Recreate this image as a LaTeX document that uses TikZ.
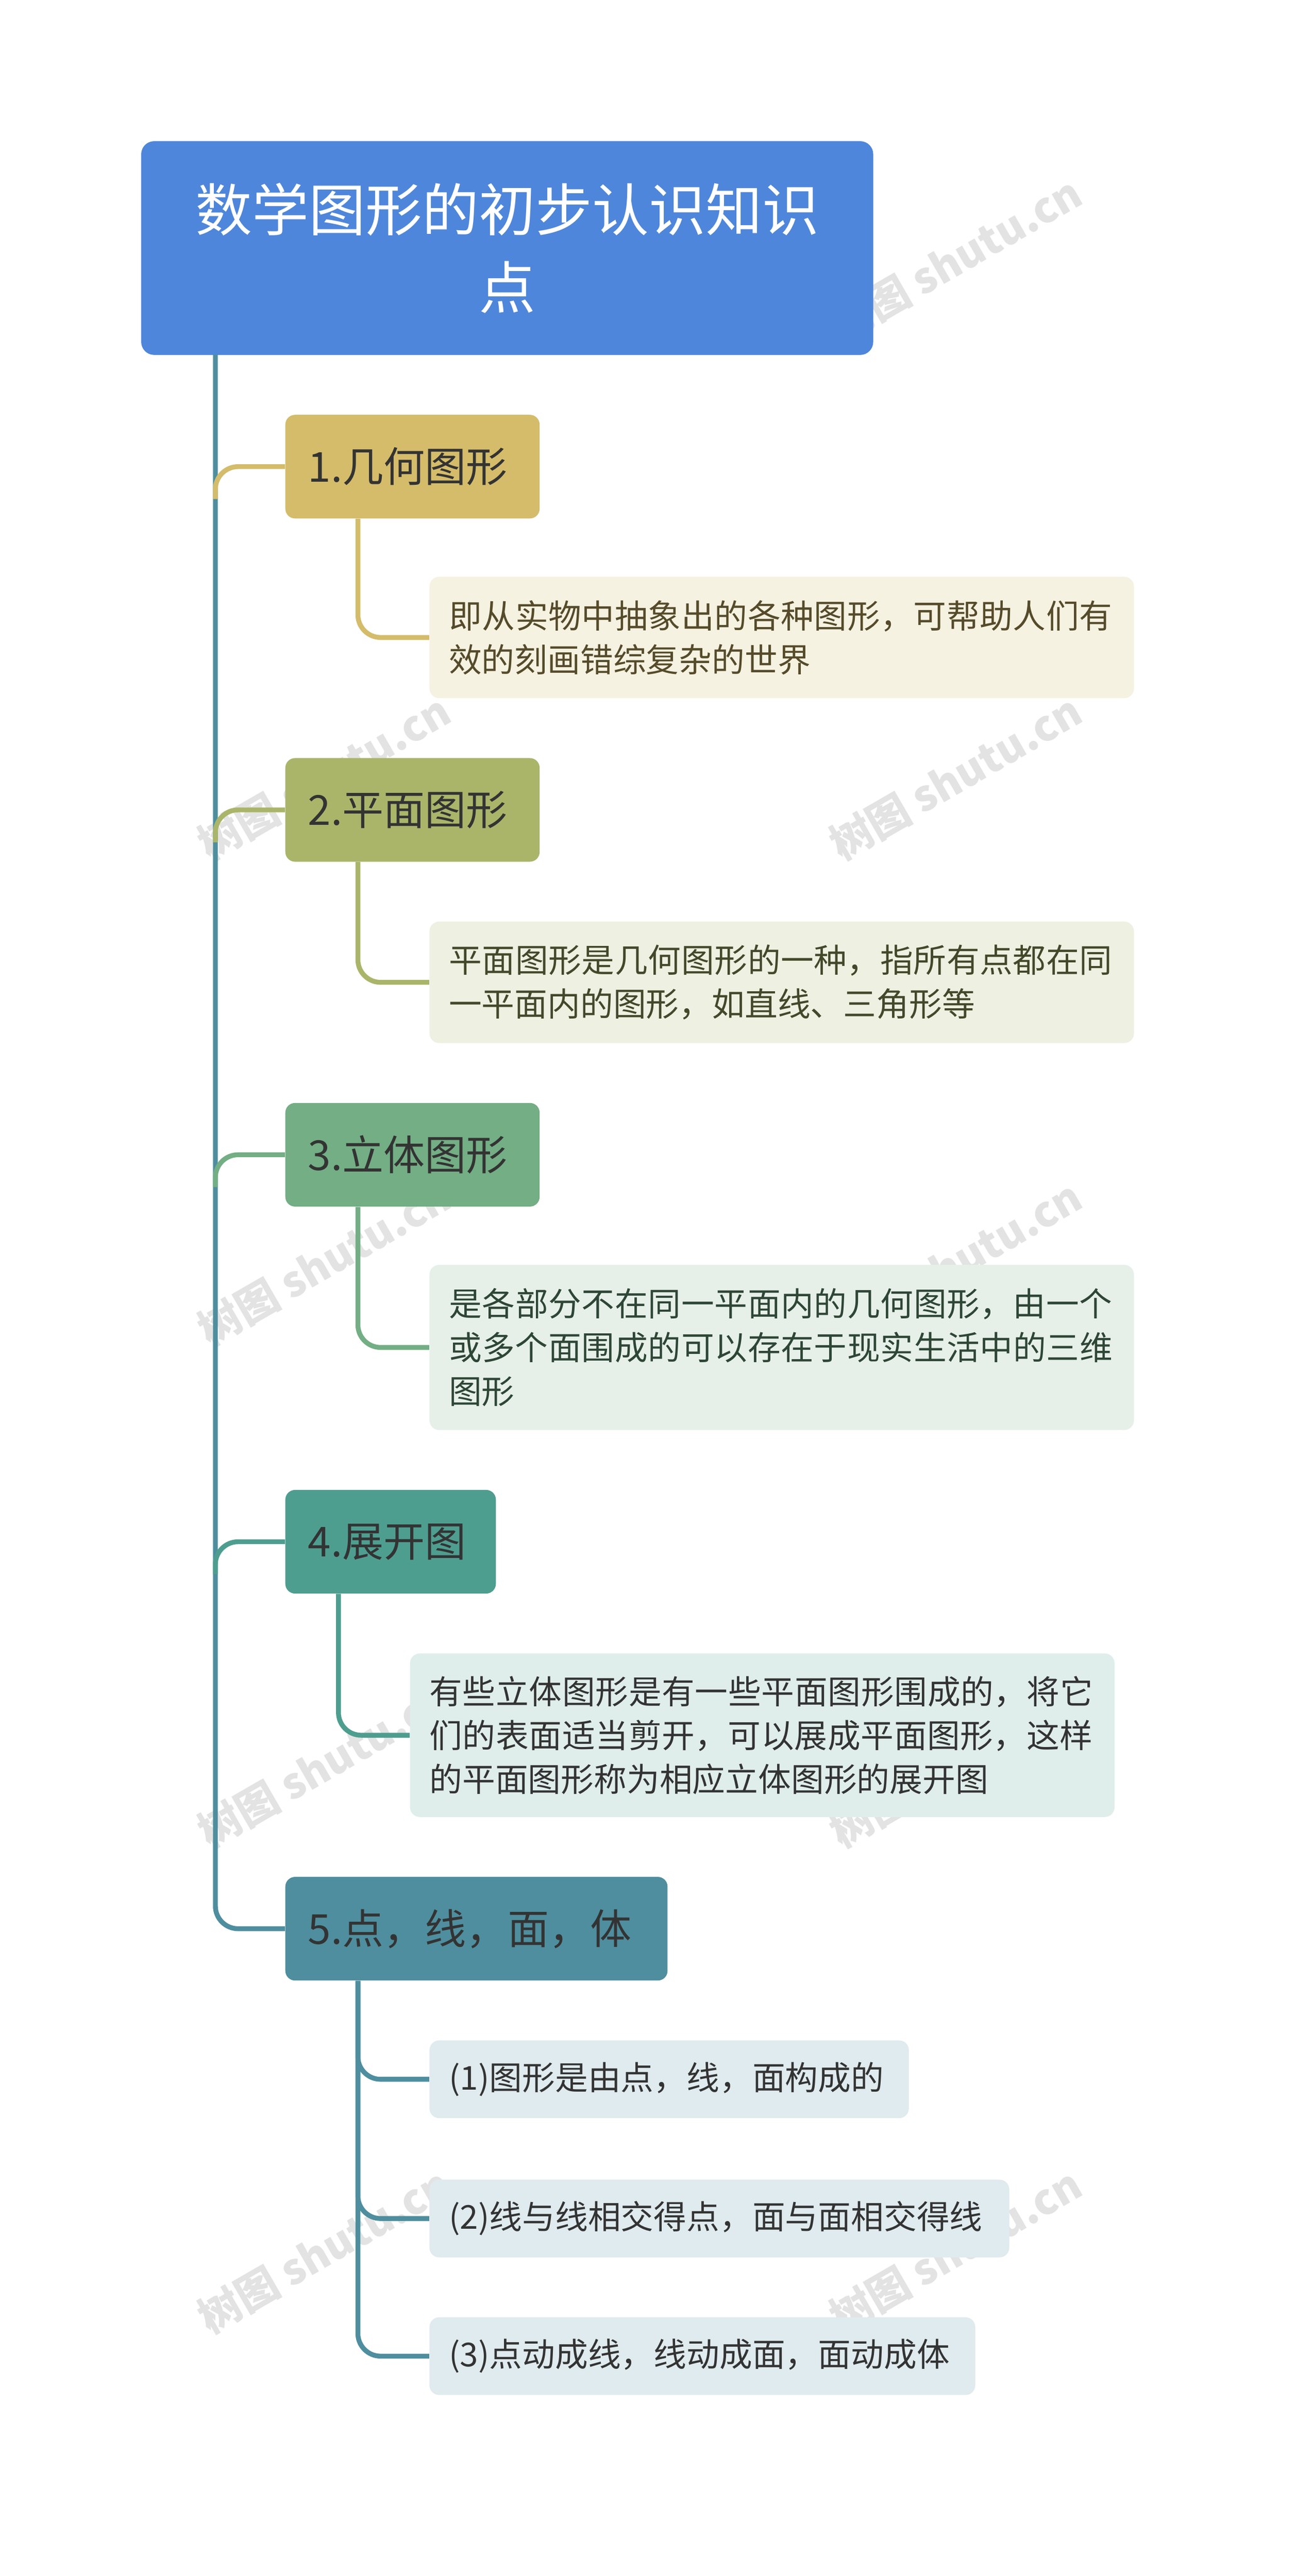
\documentclass[tikz,border=0pt]{standalone}
\usepackage{fontspec}
\setmainfont{Noto Sans CJK SC}
\XeTeXlinebreaklocale "zh"
\XeTeXlinebreakskip=0pt plus 1pt
\begin{document}
\begin{tikzpicture}[x=1pt,y=-1pt,
 ch/.style={rounded corners=6pt,anchor=north west,inner sep=0pt},
 tx/.style={anchor=west,align=left,text width=#1,inner sep=0pt,font=\fontsize{20.3}{27}\selectfont},
 ln/.style={line width=3pt,rounded corners=14pt},
 wm/.style={text=gray!22,rotate=30,font=\fontsize{26}{30}\selectfont\bfseries}]
\definecolor{cRoot}{HTML}{4E86DB}
\definecolor{c1}{HTML}{D4BC6A}\definecolor{c2}{HTML}{AAB56A}\definecolor{c3}{HTML}{73AE84}
\definecolor{c4}{HTML}{4E9E90}\definecolor{c5}{HTML}{4E8E9E}
\useasboundingbox[fill=white] (0,0) rectangle (800,1591);
\foreach \x/\y in {200/160,590/160,200/480,590/480,200/780,590/780,200/1090,590/1090,200/1390,590/1390}
  \node[wm] at (\x,\y) {树图 shutu.cn};
\node[fill=cRoot,rounded corners=8pt,anchor=north west,minimum width=452pt,minimum height=132pt,inner sep=0pt] (root) at (87,87) {};
\node[text=white,align=center,font=\fontsize{35}{48}\selectfont] at (root.center) {数学图形的初步认识知识\\点};
% branches
\node[ch,fill=c1,minimum width=157pt,minimum height=64pt] (b1) at (176,256) {};
\node[ch,fill=c2,minimum width=157pt,minimum height=64pt] (b2) at (176,468) {};
\node[ch,fill=c3,minimum width=157pt,minimum height=64pt] (b3) at (176,681) {};
\node[ch,fill=c4,minimum width=130pt,minimum height=64pt] (b4) at (176,920) {};
\node[ch,fill=c5,minimum width=236pt,minimum height=64pt] (b5) at (176,1159) {};
\foreach \n/\t in {b1/1.几何图形,b2/2.平面图形,b3/3.立体图形,b4/4.展开图,b5/{5.点，线，面，体}}
  \node[font=\fontsize{25.5}{30}\selectfont,text=black!80,anchor=west,inner sep=0pt] at ([xshift=14pt]\n.west) {\t};
% children
\node[ch,fill=c1!20,minimum width=435pt,minimum height=75pt] (k1) at (265,356) {};
\node[tx=418pt,text=c1!40!black] at ([xshift=12pt]k1.west) {即从实物中抽象出的各种图形，可帮助人们有效的刻画错综复杂的世界};
\node[ch,fill=c2!20,minimum width=435pt,minimum height=75pt] (k2) at (265,569) {};
\node[tx=418pt,text=c2!40!black] at ([xshift=12pt]k2.west) {平面图形是几何图形的一种，指所有点都在同一平面内的图形，如直线、三角形等};
\node[ch,fill=c3!18,minimum width=435pt,minimum height=102pt] (k3) at (265,781) {};
\node[tx=418pt,text=c3!40!black] at ([xshift=12pt]k3.west) {是各部分不在同一平面内的几何图形，由一个或多个面围成的可以存在于现实生活中的三维图形};
\node[ch,fill=c4!18,minimum width=435pt,minimum height=101pt] (k4) at (253,1021) {};
\node[tx=418pt,text=black!80] at ([xshift=12pt]k4.west) {有些立体图形是有一些平面图形围成的，将它们的表面适当剪开，可以展成平面图形，这样的平面图形称为相应立体图形的展开图};
\node[ch,fill=c5!18,minimum width=296pt,minimum height=48pt] (k5) at (265,1260) {};
\node[anchor=west,inner sep=0pt,font=\fontsize{20.3}{26}\selectfont,text=black!80] at ([xshift=12pt]k5.west) {(1)图形是由点，线，面构成的};
\node[ch,fill=c5!18,minimum width=358pt,minimum height=48pt] (k6) at (265,1346) {};
\node[anchor=west,inner sep=0pt,font=\fontsize{20.3}{26}\selectfont,text=black!80] at ([xshift=12pt]k6.west) {(2)线与线相交得点，面与面相交得线};
\node[ch,fill=c5!18,minimum width=337pt,minimum height=48pt] (k7) at (265,1431) {};
\node[anchor=west,inner sep=0pt,font=\fontsize{20.3}{26}\selectfont,text=black!80] at ([xshift=12pt]k7.west) {(3)点动成线，线动成面，面动成体};
% connectors
\coordinate (t0) at (133,219);
\draw[ln,c5] (t0) |- (b5.west);
\foreach \b/\c in {b1/c1,b2/c2,b3/c3,b4/c4}
  \draw[ln,\c] ([yshift=-20pt]\b.west -| t0) |- (\b.west);
\draw[ln,c1] (b1.south -| 221,0) |- (k1.west);
\draw[ln,c2] (b2.south -| 221,0) |- (k2.west);
\draw[ln,c3] (b3.south -| 221,0) |- (k3.west);
\draw[ln,c4] (b4.south -| 209,0) |- (k4.west);
\draw[ln,c5] (b5.south -| 221,0) |- (k5.west);
\draw[ln,c5] (b5.south -| 221,0) |- (k6.west);
\draw[ln,c5] (b5.south -| 221,0) |- (k7.west);
\end{tikzpicture}
\end{document}
